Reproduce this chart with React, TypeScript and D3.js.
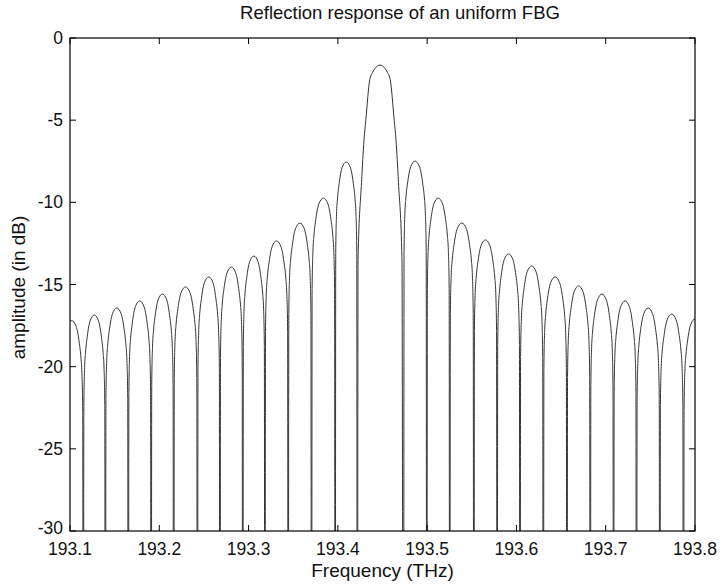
import React from 'react';
import * as d3 from 'd3';

const TITLE = 'Reflection response of an uniform FBG';
const X_LABEL = 'Frequency (THz)';
const Y_LABEL = 'amplitude (in dB)';

const xTicks = [193.1, 193.2, 193.3, 193.4, 193.5, 193.6, 193.7, 193.8];
const yTicks = [0, -5, -10, -15, -20, -25, -30];

// frequencies (THz) of the spectral nulls between lobes
const nullFreqs = [
  193.1149, 193.1396, 193.1653, 193.1909, 193.2161, 193.2427, 193.2679, 193.2935,
  193.3183, 193.3444, 193.3705, 193.397, 193.4218, 193.4735, 193.4996, 193.5253,
  193.5523, 193.5784, 193.604, 193.6301, 193.6566, 193.6827, 193.7088, 193.7345,
  193.7606, 193.7871,
];

// lobe peak frequencies (THz) and peak amplitudes (dB)
const peakFreqs = [
  193.102, 193.1272, 193.1524, 193.1781, 193.2035, 193.2294, 193.2553, 193.2807,
  193.3059, 193.3313, 193.3575, 193.3838, 193.4094, 193.4472, 193.4865, 193.5124,
  193.5388, 193.5653, 193.5912, 193.617, 193.6433, 193.6696, 193.6957, 193.7216,
  193.7475, 193.7738, 193.8,
];
const peakDb = [
  -17.2, -16.86, -16.43, -16.0, -15.58, -15.15, -14.54, -13.94, -13.27, -12.35,
  -11.26, -9.74, -7.55, -1.65, -7.49, -9.74, -11.26, -12.29, -13.14, -13.87,
  -14.54, -15.09, -15.58, -16.0, -16.43, -16.8, -17.1,
];

// side-lobe outline: position across the lobe (0..1) and drop below its peak (dB)
const sideT = [0.025, 0.06, 0.1, 0.18, 0.31, 0.5, 0.69, 0.82, 0.9, 0.94, 0.975];
const sideDrop = [5.5, 3.2, 2.3, 1.3, 0.35, 0, 0.35, 1.3, 2.3, 3.2, 5.5];

// main-lobe outline: offset from its peak (THz) and level (dB)
const mainOffset = [0.0056, 0.0084, 0.0115, 0.0159, 0.0179, 0.0207, 0.0246];
const mainDb = [-1.85, -2.1, -2.55, -5.0, -6.2, -8.8, -13.5];

const NULL_DB = -60;
const MAIN_INDEX = 13;

const W = 723;
const H = 585;
const M = { left: 70, right: 28, top: 38, bottom: 54 };

function buildSpectrum(): [number, number][] {
  const pts: [number, number][] = [];
  const n = peakFreqs.length;
  for (let i = 0; i < n; i++) {
    const P = peakFreqs[i];
    const L = i === 0 ? P - (nullFreqs[0] - P) : nullFreqs[i - 1];
    const R = i === n - 1 ? P + (P - nullFreqs[n - 2]) : nullFreqs[i];
    if (i === 0) pts.push([L, NULL_DB]);
    if (i === MAIN_INDEX) {
      for (let k = mainOffset.length - 1; k >= 0; k--) pts.push([P - mainOffset[k], mainDb[k]]);
      pts.push([P, peakDb[i]]);
      for (let k = 0; k < mainOffset.length; k++) pts.push([P + mainOffset[k], mainDb[k]]);
    } else {
      sideT.forEach((t, k) => {
        const f = t <= 0.5 ? L + (t / 0.5) * (P - L) : P + ((t - 0.5) / 0.5) * (R - P);
        pts.push([f, peakDb[i] - sideDrop[k]]);
      });
    }
    pts.push([R, NULL_DB]);
  }
  return pts;
}

export default function App() {
  const innerW = W - M.left - M.right;
  const innerH = H - M.top - M.bottom;
  const x = d3.scaleLinear().domain([193.1, 193.8]).range([M.left, M.left + innerW]);
  const y = d3.scaleLinear().domain([-30, 0]).range([M.top + innerH, M.top]);
  const data = buildSpectrum();
  const line = d3
    .line<[number, number]>()
    .x((d) => x(d[0]))
    .y((d) => y(d[1]))
    .curve(d3.curveMonotoneX);
  const tickLen = 6;
  const font = 'Liberation Sans, Arial, Helvetica, sans-serif';
  const x0 = M.left;
  const x1 = M.left + innerW;
  const y0 = M.top;
  const y1 = M.top + innerH;
  return (
    <svg
      width={W}
      height={H}
      style={{ position: 'absolute', left: 0, top: 0, background: '#fff' }}
      fontFamily={font}
    >
      <defs>
        <clipPath id="plotClip">
          <rect x={x0} y={y0} width={innerW} height={innerH} />
        </clipPath>
      </defs>
      <rect x={0} y={0} width={W} height={H} fill="#fff" />
      <g clipPath="url(#plotClip)">
        <path d={line(data) || ''} fill="none" stroke="#333" strokeWidth={1} />
      </g>
      <rect x={x0} y={y0} width={innerW} height={innerH} fill="none" stroke="#000" strokeWidth={1.2} />
      {xTicks.map((t) => (
        <g key={'x' + t}>
          <line x1={x(t)} x2={x(t)} y1={y1} y2={y1 - tickLen} stroke="#000" />
          <line x1={x(t)} x2={x(t)} y1={y0} y2={y0 + tickLen} stroke="#000" />
          <text x={x(t)} y={y1 + 24} textAnchor="middle" fontSize={17.5} fill="#111">
            {t.toFixed(1)}
          </text>
        </g>
      ))}
      {yTicks.map((t) => (
        <g key={'y' + t}>
          <line x1={x0} x2={x0 + tickLen} y1={y(t)} y2={y(t)} stroke="#000" />
          <line x1={x1} x2={x1 - tickLen} y1={y(t)} y2={y(t)} stroke="#000" />
          <text
            x={x0 - 7}
            y={t === -30 ? y(t) + 3 : y(t) + 6}
            textAnchor="end"
            fontSize={17.5}
            fill="#111"
          >
            {t}
          </text>
        </g>
      ))}
      <text x={(x0 + x1) / 2} y={577} textAnchor="middle" fontSize={19} fill="#111">
        {X_LABEL}
      </text>
      <text
        transform={`translate(${25},${(y0 + y1) / 2 + 3}) rotate(-90)`}
        textAnchor="middle"
        fontSize={19}
        fill="#111"
      >
        {Y_LABEL}
      </text>
      <text x={400} y={19} textAnchor="middle" fontSize={18.5} fill="#111">
        {TITLE}
      </text>
    </svg>
  );
}
